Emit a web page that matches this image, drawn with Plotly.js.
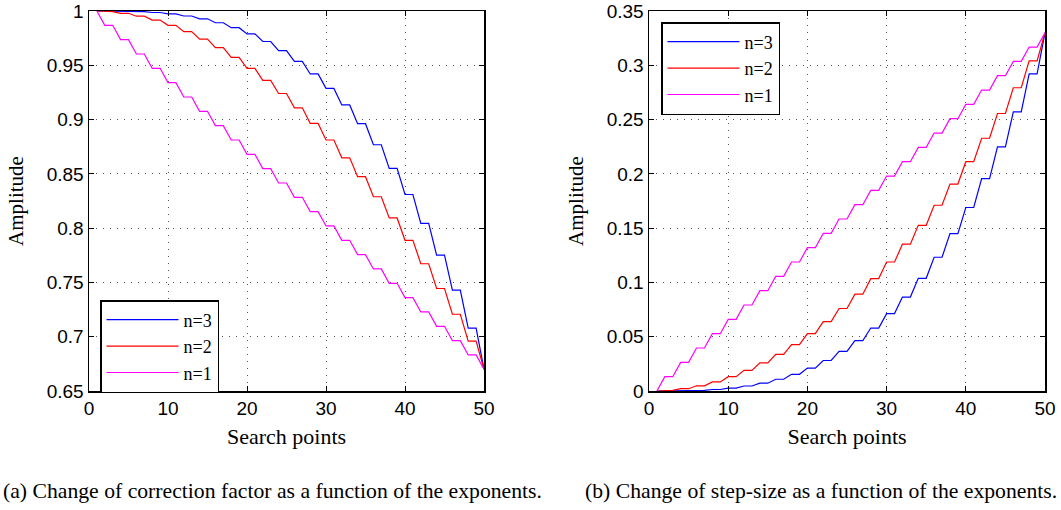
<!DOCTYPE html>
<html>
<head>
<meta charset="utf-8">
<script src="https://cdn.plot.ly/plotly-3.0.1.min.js"></script>
<style>html,body{margin:0;padding:0;background:#fff}#chart{width:1061px;height:510px}</style>
</head>
<body>
<div id="chart"></div>
<script>
// Search points
var searchPoints = [1,2,3,4,5,6,7,8,9,10,11,12,13,14,15,16,17,18,19,20,21,22,23,24,25,26,27,28,29,30,31,32,33,34,35,36,37,38,39,40,41,42,43,44,45,46,47,48,49,50];

// (a) correction factor
var corrN3 = [1, 1.0000,1.0000, 0.9998,0.9998, 0.9994,0.9994, 0.9986,0.9986, 0.9974,0.9974, 0.9954,0.9954, 0.9928,0.9928, 0.9892,0.9892, 0.9846,0.9846, 0.9789,0.9789, 0.9719,0.9719, 0.9635,0.9635, 0.9536,0.9536, 0.9420,0.9420, 0.9287,0.9287, 0.9135,0.9135, 0.8962,0.8962, 0.8768,0.8768, 0.8551,0.8551, 0.8310,0.8310, 0.8044,0.8044, 0.7751,0.7751, 0.7430,0.7430, 0.7080,0.7080, 0.67];
var corrN2 = [1, 0.9995,0.9995, 0.9979,0.9979, 0.9952,0.9952, 0.9916,0.9916, 0.9868,0.9868, 0.9810,0.9810, 0.9741,0.9741, 0.9662,0.9662, 0.9572,0.9572, 0.9472,0.9472, 0.9361,0.9361, 0.9240,0.9240, 0.9108,0.9108, 0.8965,0.8965, 0.8812,0.8812, 0.8648,0.8648, 0.8474,0.8474, 0.8289,0.8289, 0.8094,0.8094, 0.7888,0.7888, 0.7672,0.7672, 0.7444,0.7444, 0.7207,0.7207, 0.6959,0.6959, 0.67];
var corrN1 = [1, 0.9868,0.9868, 0.9736,0.9736, 0.9604,0.9604, 0.9472,0.9472, 0.934,0.934, 0.9208,0.9208, 0.9076,0.9076, 0.8944,0.8944, 0.8812,0.8812, 0.868,0.868, 0.8548,0.8548, 0.8416,0.8416, 0.8284,0.8284, 0.8152,0.8152, 0.802,0.802, 0.7888,0.7888, 0.7756,0.7756, 0.7624,0.7624, 0.7492,0.7492, 0.736,0.736, 0.7228,0.7228, 0.7096,0.7096, 0.6964,0.6964, 0.6832,0.6832, 0.67];

// (b) step-size
var stepN3 = [0, 0.0000,0.0000, 0.0002,0.0002, 0.0006,0.0006, 0.0014,0.0014, 0.0026,0.0026, 0.0046,0.0046, 0.0072,0.0072, 0.0108,0.0108, 0.0154,0.0154, 0.0211,0.0211, 0.0281,0.0281, 0.0365,0.0365, 0.0464,0.0464, 0.0580,0.0580, 0.0713,0.0713, 0.0865,0.0865, 0.1038,0.1038, 0.1232,0.1232, 0.1449,0.1449, 0.1690,0.1690, 0.1956,0.1956, 0.2249,0.2249, 0.2570,0.2570, 0.2920,0.2920, 0.33];
var stepN2 = [0, 0.0005,0.0005, 0.0021,0.0021, 0.0048,0.0048, 0.0084,0.0084, 0.0132,0.0132, 0.0190,0.0190, 0.0259,0.0259, 0.0338,0.0338, 0.0428,0.0428, 0.0528,0.0528, 0.0639,0.0639, 0.0760,0.0760, 0.0892,0.0892, 0.1035,0.1035, 0.1188,0.1188, 0.1352,0.1352, 0.1526,0.1526, 0.1711,0.1711, 0.1906,0.1906, 0.2112,0.2112, 0.2328,0.2328, 0.2556,0.2556, 0.2793,0.2793, 0.3041,0.3041, 0.33];
var stepN1 = [0, 0.0132,0.0132, 0.0264,0.0264, 0.0396,0.0396, 0.0528,0.0528, 0.066,0.066, 0.0792,0.0792, 0.0924,0.0924, 0.1056,0.1056, 0.1188,0.1188, 0.132,0.132, 0.1452,0.1452, 0.1584,0.1584, 0.1716,0.1716, 0.1848,0.1848, 0.198,0.198, 0.2112,0.2112, 0.2244,0.2244, 0.2376,0.2376, 0.2508,0.2508, 0.264,0.264, 0.2772,0.2772, 0.2904,0.2904, 0.3036,0.3036, 0.3168,0.3168, 0.33];

var seriesNames = ["n=3", "n=2", "n=1"];
var seriesColors = ["#0000ff", "#ff0000", "#ff00ff"];
var captionA = "(a) Change of correction factor as a function of the exponents.";
var captionB = "(b) Change of step-size as a function of the exponents.";
var xTitle = "Search points";
var yTitle = "Amplitude";

var corrSeries = [corrN3, corrN2, corrN1];
var stepSeries = [stepN3, stepN2, stepN1];

var serif = "'Liberation Serif', 'Times New Roman', serif";
var sans = "'Liberation Sans', Arial, Helvetica, sans-serif";

var traces = [];
for (var i = 0; i < 3; i++) {
  traces.push({x: searchPoints, y: corrSeries[i], type: "scatter", mode: "lines", name: seriesNames[i],
    line: {color: seriesColors[i], width: 1.2}, xaxis: "x", yaxis: "y", legend: "legend"});
}
for (var j = 0; j < 3; j++) {
  traces.push({x: searchPoints, y: stepSeries[j], type: "scatter", mode: "lines", name: seriesNames[j],
    line: {color: seriesColors[j], width: 1.2}, xaxis: "x2", yaxis: "y2", legend: "legend2"});
}

function axisBase(extra) {
  var a = {
    showline: true, linecolor: "#000", linewidth: 1.5, mirror: "ticks",
    ticks: "inside", ticklen: 5, tickcolor: "#000", tickwidth: 1,
    showgrid: true, gridcolor: "#555", gridwidth: 1, griddash: "1px,6px",
    zeroline: false, tickfont: {family: sans, size: 19, color: "#000"}
  };
  for (var k in extra) a[k] = extra[k];
  return a;
}

var yDom = [1 - 391/510, 1 - 11/510];
var legendCommon = {xanchor: "left", yanchor: "top", bgcolor: "#fff", bordercolor: "#000", borderwidth: 1.5,
  itemwidth: 72, entrywidth: 118, tracegroupgap: 0, font: {family: serif, size: 18, color: "#000"}};
function legendAt(x, y) { var o = {x: x, y: y}; for (var k in legendCommon) o[k] = legendCommon[k]; return o; }

var layout = {
  width: 1061, height: 510,
  margin: {l: 0, r: 0, t: 0, b: 0},
  paper_bgcolor: "#fff", plot_bgcolor: "#fff",
  showlegend: true,
  xaxis: axisBase({domain: [89/1061, 484/1061], range: [0, 50], dtick: 10, tick0: 0, anchor: "y",
    title: {text: xTitle, font: {family: serif, size: 22, color: "#000"}, standoff: 10}}),
  yaxis: axisBase({domain: yDom, range: [0.65, 1], dtick: 0.05, tick0: 0.65, anchor: "x",
    title: {text: yTitle, font: {family: serif, size: 21, color: "#000"}, standoff: 17}}),
  xaxis2: axisBase({domain: [649/1061, 1045/1061], range: [0, 50], dtick: 10, tick0: 0, anchor: "y2",
    title: {text: xTitle, font: {family: serif, size: 22, color: "#000"}, standoff: 10}}),
  yaxis2: axisBase({domain: yDom, range: [0, 0.35], dtick: 0.05, tick0: 0, anchor: "x2",
    title: {text: yTitle, font: {family: serif, size: 21, color: "#000"}, standoff: 17}}),
  legend: legendAt(100/1061, 1 - 300/510),
  legend2: legendAt(661/1061, 1 - 22/510),
  annotations: [
    {text: captionA, xref: "paper", yref: "paper", x: 1/1061, y: 1 - 491/510, xanchor: "left", yanchor: "middle",
      showarrow: false, font: {family: serif, size: 21.7, color: "#000"}},
    {text: captionB, xref: "paper", yref: "paper", x: 1059/1061, y: 1 - 491/510, xanchor: "right", yanchor: "middle",
      showarrow: false, font: {family: serif, size: 21.7, color: "#000"}}
  ]
};

Plotly.newPlot("chart", traces, layout, {staticPlot: true, displayModeBar: false});
</script>
</body>
</html>
